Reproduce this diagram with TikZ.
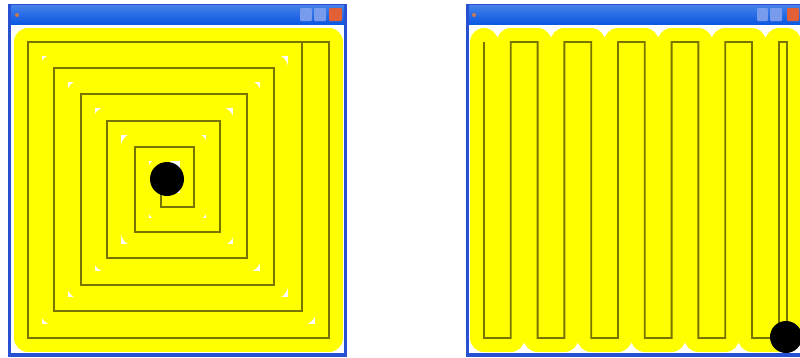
\documentclass[tikz,border=0pt]{standalone}
\usepackage{tikz}
\definecolor{sweepyellow}{RGB}{255,255,0}
\definecolor{trackolive}{RGB}{120,116,0}
\definecolor{xpblue}{RGB}{8,86,226}
\definecolor{xpborder}{RGB}{40,80,210}
\definecolor{xpbtn}{RGB}{120,155,235}
\definecolor{xpclose}{RGB}{226,96,56}
\definecolor{xpicon}{RGB}{200,120,80}

\begin{document}
\begin{tikzpicture}[
    x=0.03cm, y=-0.03cm,
    sweep/.style={draw=sweepyellow, line width=0.84cm, line join=round, line cap=round},
    track/.style={draw=trackolive, line width=1.6pt, line join=miter},
    frame/.style={fill=xpborder},
    titlebar/.style={top color=xpblue!75!white, bottom color=xpblue},
    client/.style={fill=white},
    btn/.style={fill=xpbtn, rounded corners=1pt},
    closebtn/.style={fill=xpclose, rounded corners=1pt},
    robot/.style={fill=black}
]
    \useasboundingbox (0,0) rectangle (800,357);

    % spiral window
    \fill[frame] (8,4) rectangle (347,357);
    \fill[titlebar] (11,5) rectangle (344,25);
    \fill[client] (11,25) rectangle (344,353);
    \fill[btn] (300,8) rectangle (312,21);
    \fill[btn] (314,8) rectangle (326,21);
    \fill[closebtn] (329,8) rectangle (342,21);
    \fill[xpicon] (17,15) circle [radius=0.06cm];

    \draw[track, preaction={sweep}] (161,172) -- (161,207) -- (194,207) -- (194,147) -- (135,147)
        -- (135,232) -- (220,232) -- (220,121) -- (107,121) -- (107,258) -- (247,258) -- (247,94)
        -- (81,94) -- (81,285) -- (274,285) -- (274,68) -- (54,68) -- (54,311) -- (302,311)
        -- (302,42) -- (28,42) -- (28,338) -- (329,338) -- (329,42) -- (302,42);
    \fill[robot] (167,179) circle [radius=0.51cm];

    % back-and-forth window
    \fill[frame] (466,4) rectangle (806,357);
    \fill[titlebar] (469,5) rectangle (803,25);
    \fill[client] (469,25) rectangle (803,353);
    \fill[btn] (757,8) rectangle (768,21);
    \fill[btn] (770,8) rectangle (782,21);
    \fill[closebtn] (787,8) rectangle (799,21);
    \fill[xpicon] (474,15) circle [radius=0.06cm];

    \draw[track, preaction={sweep}] (484,42)
        \foreach \i in {0,2,...,8} {
            -- ({484+26.8*\i},338) -- ({484+26.8*(\i+1)},338)
            -- ({484+26.8*(\i+1)},42) -- ({484+26.8*(\i+2)},42)
        }
        -- (752,338) -- (779,338) -- (779,42) -- (787,42) -- (787,337);
    \fill[robot] (786,337) circle [radius=0.48cm];
\end{tikzpicture}
\end{document}
